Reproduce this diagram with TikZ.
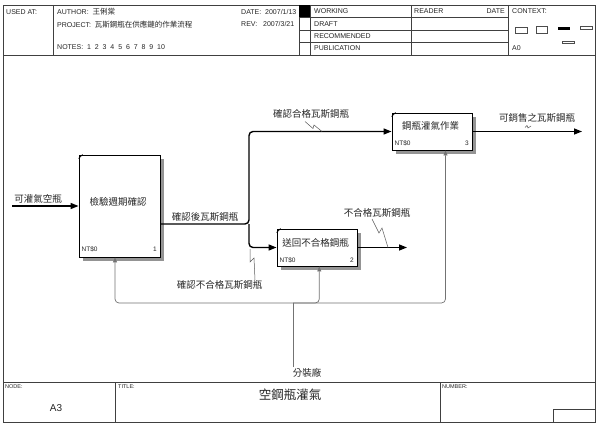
\documentclass[tikz,border=0pt]{standalone}
\usepackage{fontspec}
\setmainfont{Liberation Sans}
\newfontfamily\cjk{Noto Sans CJK TC}
\usetikzlibrary{arrows.meta}
\begin{document}
\begin{tikzpicture}[x=1pt,y=-1pt,
  frame/.style={draw=black!75,line width=0.7pt},
  hdr/.style={font=\fontsize{7}{8}\selectfont,anchor=west,inner sep=0pt,text=black!85},
  tinytxt/.style={font=\fontsize{5.5}{6}\selectfont,anchor=west,inner sep=0pt,text=black!85},
  boxnum/.style={font=\fontsize{6.5}{7}\selectfont,anchor=west,inner sep=0pt,text=black!85},
  actbox/.style={draw=black,line width=0.9pt,fill=white,inner sep=0pt},
  shadowbox/.style={fill=black!42},
  boxtxt/.style={font=\cjk\fontsize{9.5}{11}\selectfont,inner sep=0pt,text=black!85},
  lbl/.style={font=\cjk\fontsize{9.5}{11}\selectfont,inner sep=0pt,text=black!85},
  flow/.style={draw=black,line width=1.4pt,rounded corners=4pt},
  arr/.style={-{Triangle[length=8pt,width=6pt]}},
  mech/.style={draw=black!55,line width=0.7pt,rounded corners=4pt},
  marr/.style={-{Triangle[length=5pt,width=4pt]}},
  squig/.style={draw=black!65,line width=0.5pt},
  cornermark/.style={draw=black,line width=0.6pt},
]
\useasboundingbox (0,0) rectangle (597,425);
\fill[white] (0,0) rectangle (597,425);

% ---------- frame ----------
\draw[frame] (3,5) rectangle (595,422);
\draw[frame] (3,55) -- (595,55);
\draw[frame] (53,5) -- (53,55);
\draw[frame] (299,5) -- (299,55);
\draw[frame] (310,5) -- (310,55);
\draw[frame] (411,5) -- (411,55);
\draw[frame] (508,5) -- (508,55);
\draw[frame] (299,17.5) -- (508,17.5);
\draw[frame] (299,30) -- (508,30);
\draw[frame] (299,42.5) -- (508,42.5);
\fill[black] (299,5) rectangle (310,17.5);

% header texts
\node[hdr] (usedat) at (6,12) {USED AT:};
\node[hdr] (author) at (57,12) {AUTHOR:\ \ {\cjk\fontsize{7.5}{8}\selectfont 王俐棠}};
\node[hdr] (project) at (57,24.5) {PROJECT:\ \ {\cjk\fontsize{7.5}{8}\selectfont 瓦斯鋼瓶在供應鏈的作業流程}};
\node[hdr] (notes) at (57,47) {NOTES:\ \ 1\ \ 2\ \ 3\ \ 4\ \ 5\ \ 6\ \ 7\ \ 8\ \ 9\ \ 10};
\node[hdr] (date) at (241,12) {DATE:\ \ 2007/1/13};
\node[hdr] (rev) at (241,24.5) {REV:\ \ \ 2007/3/21};
\node[hdr] (working) at (314,11.5) {WORKING};
\node[hdr] (draft) at (314,24) {DRAFT};
\node[hdr] (recom) at (314,36) {RECOMMENDED};
\node[hdr] (public) at (314,48.5) {PUBLICATION};
\node[hdr] (reader) at (414,11.5) {READER};
\node[hdr,anchor=east] (rdate) at (505,11.5) {DATE};
\node[hdr] (context) at (512,11.5) {CONTEXT:};
\node[hdr] (a0) at (512,48.5) {A0};

% context mini boxes
\draw[black!70,line width=0.5pt] (515,27) rectangle (527,33);
\draw[black!70,line width=0.5pt] (536,26) rectangle (547,33);
\fill[black] (558,27.5) rectangle (570,30.5);
\draw[black!70,line width=0.5pt] (580,26) rectangle (592,29);
\draw[black!70,line width=0.5pt] (562,41) rectangle (574,43.5);

% ---------- bottom block ----------
\draw[frame] (3,382) -- (595,382);
\draw[frame] (115,382) -- (115,422);
\draw[frame] (440,382) -- (440,422);
\draw[frame] (553,409) rectangle (595,422);
\node[tinytxt] (nodelbl) at (5,387) {NODE:};
\node[tinytxt] (titlelbl) at (118,387) {TITLE:};
\node[tinytxt] (numlbl) at (442,387) {NUMBER:};
\node[font=\fontsize{10}{12}\selectfont,inner sep=0pt,text=black!85] (a3) at (56,408) {A3};
\node[font=\cjk\fontsize{12.5}{14}\selectfont,inner sep=0pt,text=black!85] (title) at (290,394.5) {空鋼瓶灌氣};

% ---------- shadows ----------
\fill[shadowbox] (83,159) rectangle (164,261);
\fill[shadowbox] (281,233) rectangle (361,270);
\fill[shadowbox] (396,117) rectangle (476,154);

% ---------- activity boxes ----------
\node[actbox,minimum width=81pt,minimum height=102pt] (b1) at (119.5,206) {};
\node[actbox,minimum width=80pt,minimum height=37pt] (b2) at (317,247.5) {};
\node[actbox,minimum width=80pt,minimum height=37pt] (b3) at (432,131.5) {};

\draw[cornermark] ([yshift=-4pt]b1.north west) -- ([xshift=4pt]b1.north west);
\draw[cornermark] ([yshift=-4pt]b2.north west) -- ([xshift=4pt]b2.north west);
\draw[cornermark] ([yshift=-4pt]b3.north west) -- ([xshift=4pt]b3.north west);

\node[boxtxt] (t1) at (118,202) {檢驗週期確認};
\node[boxtxt] (t2) at (315.5,243) {送回不合格鋼瓶};
\node[boxtxt] (t3) at (430.5,126) {鋼瓶灌氣作業};

\node[boxnum] (c1) at (81.5,249.5) {NT\$0};
\node[boxnum,anchor=east] (n1) at (157,249.5) {1};
\node[boxnum] (c2) at (279.5,260.5) {NT\$0};
\node[boxnum,anchor=east] (n2) at (354,260.5) {2};
\node[boxnum] (c3) at (394.5,143.5) {NT\$0};
\node[boxnum,anchor=east] (n3) at (469,143.5) {3};

% ---------- flows ----------
\coordinate (in1) at (12,206);
\coordinate (br) at (249,224);
\coordinate (o2) at (407,247.5);
\coordinate (o3) at (582,131.5);

\draw[flow,arr] (in1) -- (b1.west);
\draw[flow,arr] (b1.east |- br) -- (br) |- (b3.west);
\draw[flow,arr] (br) |- (b2.west);
\draw[flow,arr] (b2.east) -- (o2);
\draw[flow,arr] (b3.east) -- (o3);

% ---------- mechanisms ----------
\coordinate (src) at (293,367);
\coordinate (bus) at (293,303);
\draw[mech] (src) -- (bus);
\draw[mech,marr] (bus) -| ([xshift=-4.5pt]b1.south);
\draw[mech,marr] (bus) -| ([xshift=2.3pt]b2.south);
\draw[mech,marr] (bus) -| ([xshift=13.5pt]b3.south);

% ---------- labels ----------
\node[lbl] (l_in) at (38,199) {可灌氣空瓶};
\node[lbl] (l_o1) at (205,216.5) {確認後瓦斯鋼瓶};
\node[lbl] (l_ok) at (311,114) {確認合格瓦斯鋼瓶};
\node[lbl] (l_ng) at (377,212.5) {不合格瓦斯鋼瓶};
\node[lbl] (l_cng) at (219.5,285) {確認不合格瓦斯鋼瓶};
\node[lbl] (l_out) at (537,118) {可銷售之瓦斯鋼瓶};
\node[lbl] (l_mech) at (307,373) {分裝廠};

% squiggles
\draw[squig] (305,121.5) -- (313,128.5) -- (314,125) -- (322,131.5);
\draw[squig] (372,219) -- (379,233) -- (382,228) -- (388,247.5);
\draw[squig] (250,249) -- (250,262) -- (254,258) -- (255,280);
\draw[squig] (525,127.5) -- (527,125.5) -- (528,128) -- (531,126);
\end{tikzpicture}
\end{document}
